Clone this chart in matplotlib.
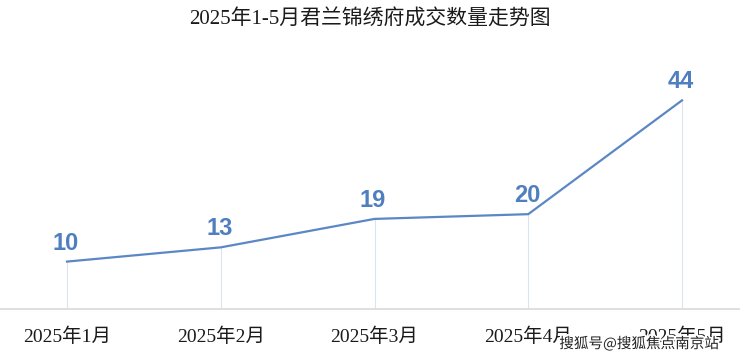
import matplotlib
matplotlib.use("Agg")
import matplotlib.pyplot as plt
import matplotlib.patheffects as pe

plt.rcParams['font.family'] = ['Liberation Serif', 'Noto Sans CJK SC', 'DejaVu Sans']

# data
months = ["2025年1月", "2025年2月", "2025年3月", "2025年4月", "2025年5月"]
deals = [10, 13, 19, 20, 44]
title = "2025年1-5月君兰锦绣府成交数量走势图"

line_color = '#5b87c5'
label_color = '#4f7fbf'

fig = plt.figure(figsize=(7.4, 3.56), dpi=100)
ax = fig.add_axes([0, 0.132, 1, 0.666])

x = list(range(len(months)))
ax.plot(x, deals, color=line_color, lw=1.6, zorder=3)
ax.vlines(x, 0, deals, color='#dbe5f2', lw=0.8, zorder=1)

for xi, v in zip(x, deals):
    ax.annotate(str(v), (xi, v), xytext=(-1, 5), textcoords='offset points',
                ha='center', va='bottom', fontsize=17, fontweight='bold',
                color=label_color, family=['Liberation Sans'])

ax.set_xlim(-67 / 153.75, 4 + 58 / 153.75)
ax.set_ylim(0, 50)
ax.set_yticks([])
ax.set_xticks(x)
ax.set_xticklabels(months, fontsize=14, color='#1a1a1a')
ax.tick_params(axis='x', length=0, pad=13)
for s in ['top', 'right', 'left']:
    ax.spines[s].set_visible(False)
ax.spines['bottom'].set_color('#d9d9d9')
ax.spines['bottom'].set_linewidth(1.2)

fig.text(0.5, 0.945, title, ha='center', va='center', fontsize=15, color='#1a1a1a')

wm = fig.text(0.864, 0.034, "搜狐号@搜狐焦点南京站", ha='center', va='center',
              fontsize=10.5, color='#222222', family=['Noto Sans CJK SC'])
wm.set_path_effects([pe.withStroke(linewidth=2.5, foreground='white')])

fig.savefig("out.png", dpi=100)
